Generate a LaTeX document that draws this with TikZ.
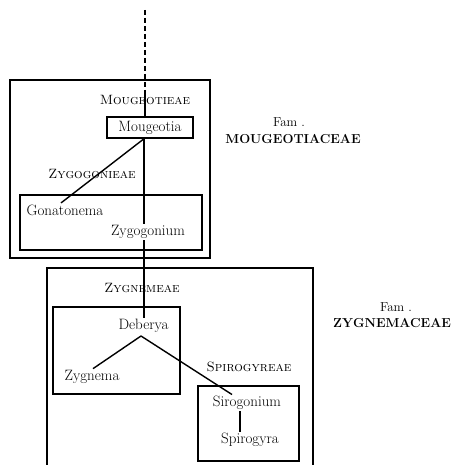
\documentclass[tikz,border=0pt]{standalone}
\begin{document}
\begin{tikzpicture}[x=1pt,y=-1pt,
  line width=1.4pt,
  grp/.style={draw,line width=1.5pt,inner sep=0pt},
  gen/.style={font=\fontsize{15}{17}\selectfont,inner sep=1pt},
  tribe/.style={font=\fontsize{13.5}{15}\selectfont\scshape,inner sep=1pt},
  fam/.style={font=\fontsize{13}{15}\selectfont\bfseries,inner sep=1pt},
  famw/.style={font=\fontsize{13}{15}\selectfont,inner sep=1pt}]
\useasboundingbox (0,0) rectangle (452,465);
% family boxes
\node[grp,minimum width=200pt,minimum height=178pt] (fmoug) at (110,169) {};
\node[grp,minimum width=182pt,minimum height=55pt] (bzyg) at (111,222.5) {};
\node[grp,minimum width=86pt,minimum height=21pt,gen] (moug) at (150,127.5) {Mougeotia};
\coordinate (z1) at (47,465);
\coordinate (z2) at (47,268);
\coordinate (z3) at (313,268);
\coordinate (z4) at (313,465);
\draw[line width=1.5pt] (z1) -- (z2) -- (z3) -- (z4);
\node[grp,minimum width=127pt,minimum height=87pt] (bdeb) at (116.5,350.5) {};
\node[grp,minimum width=101pt,minimum height=75pt] (bspi) at (248.5,423.5) {};
% labels
\node[tribe] (tmoug) at (145,100) {Mougeotieae};
\node[tribe] (tzygo) at (92,174) {Zygogonieae};
\node[tribe] (tzygn) at (142,288) {Zygnemeae};
\node[tribe] (tspir) at (249,367) {Spirogyreae};
\node[gen] (gona) at (65,210) {Gonatonema};
\node[gen] (zygo) at (148,232) {Zygogonium};
\node[gen] (debe) at (143.5,326) {Deberya};
\node[gen] (zygn) at (92,377) {Zygnema};
\node[gen] (siro) at (247,403) {Sirogonium};
\node[gen] (spir) at (250,440) {Spirogyra};
\node[famw] (f1) at (289,122) {Fam .};
\node[fam] (f1n) at (293,139) {MOUGEOTIACEAE};
\node[famw] (f2) at (396,307) {Fam .};
\node[fam] (f2n) at (392,323) {ZYGNEMACEAE};
% connectors
\coordinate (top) at (145,10);
\coordinate (dend) at (145,92);
\coordinate (br) at (141,336);
\draw[dash pattern=on 5pt off 3pt] (top) -- (dend);
\draw (dend) -- (moug.north -| dend);
\draw ([xshift=-6pt]moug.south) -- ([xshift=-4pt]gona.north);
\draw (moug.south -| 144,0) -- (zygo.north -| 144,0);
\draw (zygo.south -| 144,0) -- (debe.north -| 144,0);
\draw (br) -- ([xshift=1pt]zygn.north);
\draw (br) -- ([xshift=-15pt]siro.north);
\draw (siro.south -| 240,0) -- (spir.north -| 240,0);
\end{tikzpicture}
\end{document}
